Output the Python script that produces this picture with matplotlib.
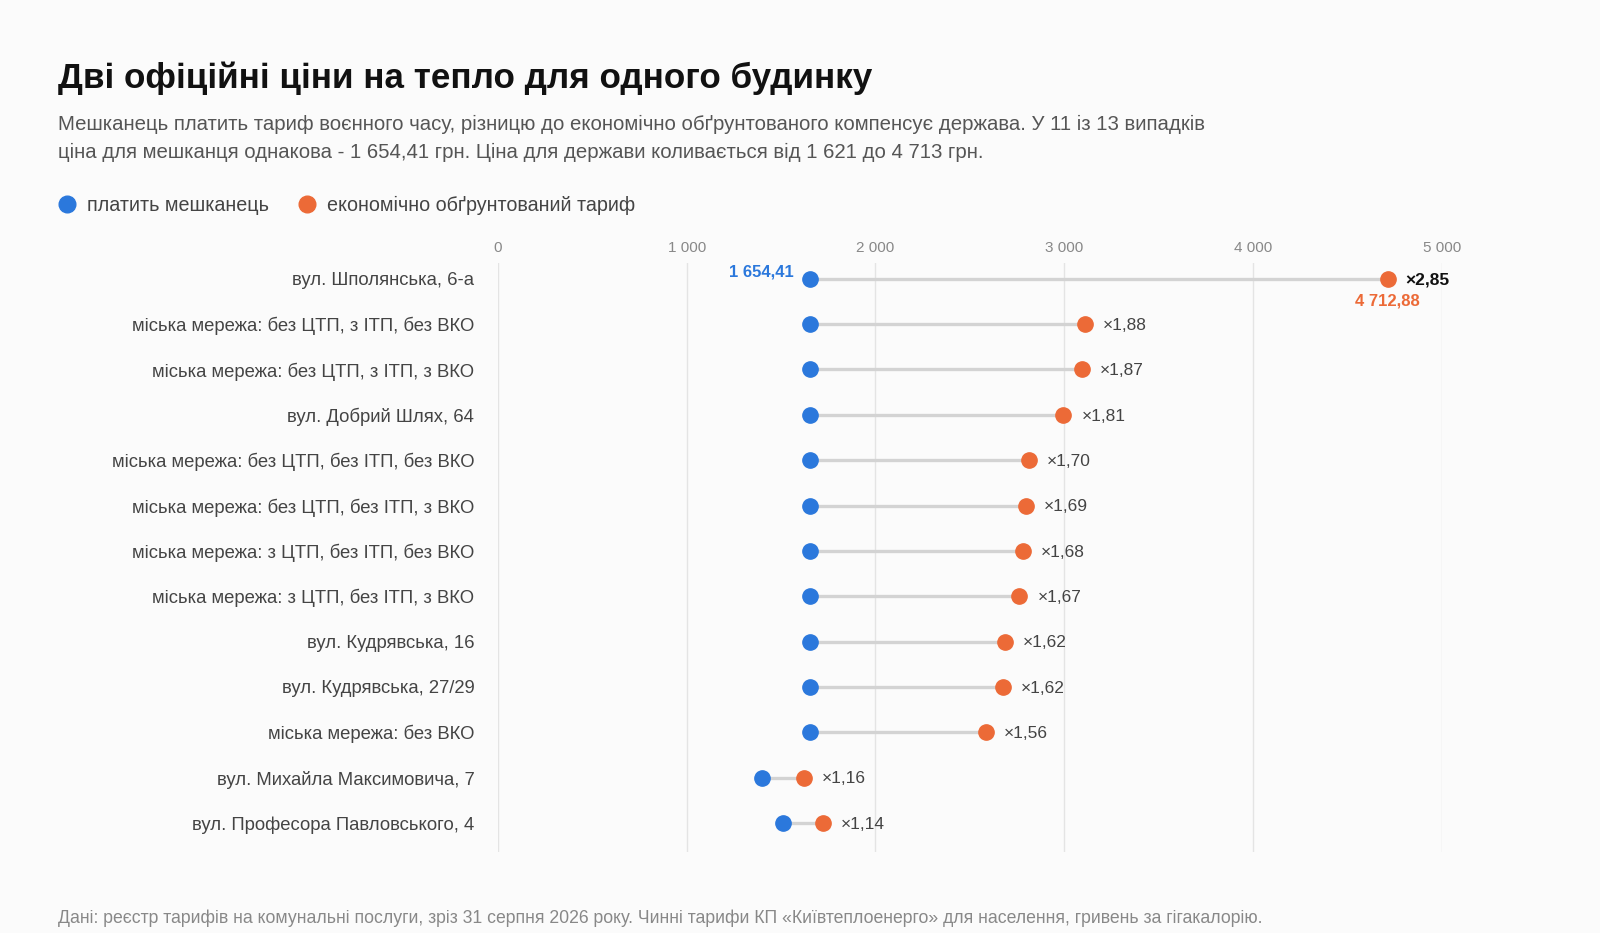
import numpy as np
import matplotlib.pyplot as plt
from matplotlib.lines import Line2D

plt.rcParams['font.family'] = ['Liberation Sans', 'DejaVu Sans']

labels = [
    "вул. Шполянська, 6-а",
    "міська мережа: без ЦТП, з ІТП, без ВКО",
    "міська мережа: без ЦТП, з ІТП, з ВКО",
    "вул. Добрий Шлях, 64",
    "міська мережа: без ЦТП, без ІТП, без ВКО",
    "міська мережа: без ЦТП, без ІТП, з ВКО",
    "міська мережа: з ЦТП, без ІТП, без ВКО",
    "міська мережа: з ЦТП, без ІТП, з ВКО",
    "вул. Кудрявська, 16",
    "вул. Кудрявська, 27/29",
    "міська мережа: без ВКО",
    "вул. Михайла Максимовича, 7",
    "вул. Професора Павловського, 4",
]
resident = [1654.41] * 11 + [1397, 1508]
economic = [4712.88, 3110, 3094, 2995, 2812, 2797, 2779, 2763, 2685, 2675, 2584, 1621, 1720]
xticks = [0, 1000, 2000, 3000, 4000, 5000]
xticklabels = ["0", "1 000", "2 000", "3 000", "4 000", "5 000"]

BLUE = '#2b78dc'
ORANGE = '#ec6a37'
BG = '#fbfbfb'

fig = plt.figure(figsize=(16, 9.33), dpi=100, facecolor=BG)
ax = fig.add_axes([0.3112, 0.0864, 0.5899, 0.6313], facecolor=BG)

y = np.arange(len(labels))
for i in range(len(labels)):
    ax.plot([resident[i], economic[i]], [i, i], color='#d3d3d3', lw=2.4,
            solid_capstyle='butt', zorder=2)
ax.plot(resident, y, 'o', color=BLUE, ms=11, zorder=3)
ax.plot(economic, y, 'o', color=ORANGE, ms=11, zorder=3)

for i in range(len(labels)):
    r = economic[i] / resident[i]
    txt = "×" + f"{r:.2f}".replace('.', ',')
    if i == 0:
        ax.annotate(txt, (economic[i], i), xytext=(13, -1), textcoords='offset points',
                    va='center', ha='left', fontsize=12.5, fontweight='bold', color='#111111')
    else:
        ax.annotate(txt, (economic[i], i), xytext=(13, -1), textcoords='offset points',
                    va='center', ha='left', fontsize=12.5, color='#444444')

ax.annotate("1 654,41", (resident[0], 0), xytext=(-12, 5), textcoords='offset points',
            va='center', ha='right', fontsize=12, fontweight='bold', color=BLUE)
ax.annotate("4 712,88", (economic[0], 0), xytext=(0, -16), textcoords='offset points',
            va='center', ha='center', fontsize=12, fontweight='bold', color=ORANGE)

ax.set_xlim(0, 5000)
ax.set_ylim(12.65, -0.34)
ax.set_xticks(xticks)
ax.set_xticklabels(xticklabels)
ax.xaxis.tick_top()
ax.tick_params(axis='x', length=0, pad=6, labelsize=11, labelcolor='#888888')
ax.set_yticks(y)
ax.set_yticklabels(labels)
ax.tick_params(axis='y', length=0, pad=17, labelsize=13.3, labelcolor='#444444')
ax.grid(axis='x', color='#e4e4e4', lw=1, zorder=0)
for s in ax.spines.values():
    s.set_visible(False)

fig.text(0.0364, 0.916, "Дві офіційні ціни на тепло для одного будинку",
         fontsize=25.2, fontweight='bold', color='#111111', va='center')
fig.text(0.0364, 0.867, "Мешканець платить тариф воєнного часу, різницю до економічно обґрунтованого компенсує держава. У 11 із 13 випадків",
         fontsize=14.7, color='#555555', va='center')
fig.text(0.0364, 0.837, "ціна для мешканця однакова - 1 654,41 грн. Ціна для держави коливається від 1 621 до 4 713 грн.",
         fontsize=14.7, color='#555555', va='center')

# легенда
fig.add_artist(Line2D([0.0421], [0.781], marker='o', color=BLUE, ms=12, transform=fig.transFigure))
fig.text(0.0543, 0.780, "платить мешканець", fontsize=14.2, color='#444444', va='center')
fig.add_artist(Line2D([0.1921], [0.781], marker='o', color=ORANGE, ms=12, transform=fig.transFigure))
fig.text(0.2041, 0.780, "економічно обґрунтований тариф", fontsize=14.2, color='#444444', va='center')

fig.text(0.0364, 0.016, "Дані: реєстр тарифів на комунальні послуги, зріз 31 серпня 2026 року. Чинні тарифи КП «Київтеплоенерго» для населення, гривень за гігакалорію.",
         fontsize=12.7, color='#888888', va='center')

fig.savefig('out.png', dpi=100, facecolor=BG)
